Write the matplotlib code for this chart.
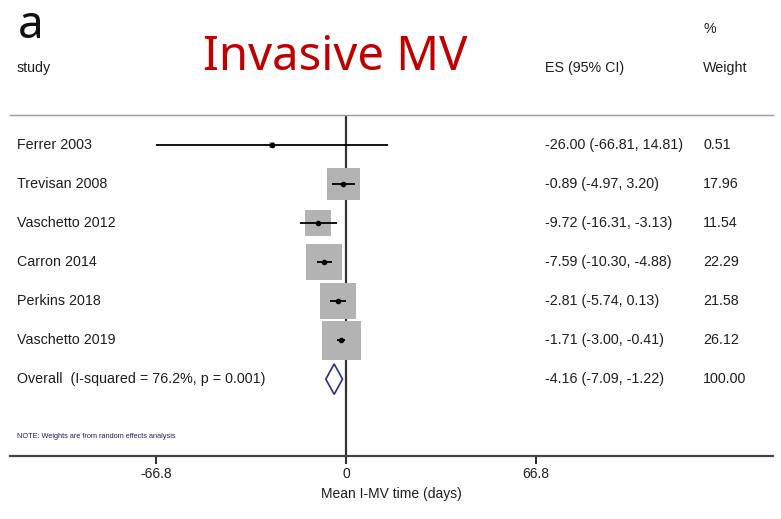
import matplotlib
matplotlib.use("Agg")
import matplotlib.pyplot as plt
import matplotlib.transforms as mtransforms
from matplotlib.patches import Polygon

studies = ["Ferrer 2003", "Trevisan 2008", "Vaschetto 2012", "Carron 2014",
           "Perkins 2018", "Vaschetto 2019"]
es = [-26.00, -0.89, -9.72, -7.59, -2.81, -1.71]
ci_low = [-66.81, -4.97, -16.31, -10.30, -5.74, -3.00]
ci_high = [14.81, 3.20, -3.13, -4.88, 0.13, -0.41]
weights = [0.51, 17.96, 11.54, 22.29, 21.58, 26.12]

overall_label = "Overall  (I-squared = 76.2%, p = 0.001)"
overall_es = -4.16
overall_low = -7.09
overall_high = -1.22
overall_weight = 100.00

xticks = [-66.8, 0, 66.8]
xticklabels = ["-66.8", "0", "66.8"]

W, H = 781, 519
fig = plt.figure(figsize=(W / 100, H / 100), dpi=100)
fig.patch.set_facecolor("white")

plt.rcParams['font.family'] = ['Liberation Sans', 'DejaVu Sans']
txt_color = "#1e1e1e"

# axes geometry (pixels)
left_px, right_px, top_px, bot_px = 10, 773, 115, 456
ax = fig.add_axes([left_px / W, (H - bot_px) / H, (right_px - left_px) / W, (bot_px - top_px) / H])
ax.set_xlim(-118.1, 150.1)
ax.set_ylim(8.97, 0.23)
ax.set_facecolor("none")

for s in ["left", "right"]:
    ax.spines[s].set_visible(False)
ax.spines["bottom"].set_linewidth(1.6)
ax.spines["bottom"].set_color("#444444")
ax.spines["top"].set_linewidth(1.0)
ax.spines["top"].set_color("#9a9a9a")
ax.set_yticks([])
ax.set_xticks(xticks)
ax.set_xticklabels(xticklabels, fontsize=10, color=txt_color)
ax.tick_params(axis="x", direction="out", length=6, width=1.5, color="#333333", pad=2)
ax.set_xlabel("Mean I-MV time (days)", fontsize=10, color=txt_color, labelpad=4)

# null line
ax.axvline(0, color="#333333", lw=1.6, zorder=1)

rows = list(range(1, len(studies) + 1))
ax.scatter(es, rows, marker="s", s=[30 * w for w in weights], color="#b3b3b3",
           linewidths=0, zorder=2)
for r, e, lo, hi in zip(rows, es, ci_low, ci_high):
    ax.plot([lo, hi], [r, r], color="black", lw=1.3, zorder=3, solid_capstyle="butt")
    ax.plot([e], [r], marker="o", ms=3, color="black", zorder=4)

orow = len(studies) + 1
dh = 0.39
diamond = Polygon([(overall_low, orow), (overall_es, orow - dh), (overall_high, orow),
                   (overall_es, orow + dh)], closed=True, facecolor="white",
                  edgecolor="#2f2f80", lw=1.2, zorder=3)
ax.add_patch(diamond)

# text columns
tr = mtransforms.blended_transform_factory(fig.transFigure, ax.transData)
x_study, x_es, x_w = 17 / W, 545 / W, 703 / W
fs = 10.3
for r, name, e, lo, hi, w in zip(rows, studies, es, ci_low, ci_high, weights):
    ax.text(x_study, r, name, transform=tr, ha="left", va="center", fontsize=fs, color=txt_color)
    ax.text(x_es, r, f"{e:.2f} ({lo:.2f}, {hi:.2f})", transform=tr, ha="left", va="center",
            fontsize=fs, color=txt_color)
    ax.text(x_w, r, f"{w:.2f}", transform=tr, ha="left", va="center", fontsize=fs, color=txt_color)
ax.text(x_study, orow, overall_label, transform=tr, ha="left", va="center", fontsize=fs, color=txt_color)
ax.text(x_es, orow, f"{overall_es:.2f} ({overall_low:.2f}, {overall_high:.2f})", transform=tr,
        ha="left", va="center", fontsize=fs, color=txt_color)
ax.text(x_w, orow, f"{overall_weight:.2f}", transform=tr, ha="left", va="center", fontsize=fs,
        color=txt_color)

# headers
def fy(py):
    return (H - py) / H

fig.text(17 / W, fy(72), "study", ha="left", va="baseline", fontsize=fs, color=txt_color)
fig.text(x_es, fy(72), "ES (95% CI)", ha="left", va="baseline", fontsize=fs, color=txt_color)
fig.text(x_w, fy(72), "Weight", ha="left", va="baseline", fontsize=fs, color=txt_color)
fig.text(x_w, fy(33), "%", ha="left", va="baseline", fontsize=fs, color=txt_color)
fig.text(18 / W, fy(38), "a", ha="left", va="baseline", fontsize=33, color="#111111",
         family=["Noto Sans", "DejaVu Sans"])
fig.text(335 / W, fy(70), "Invasive MV", ha="center", va="baseline", fontsize=34, color="#c00000",
         family=["Noto Sans", "DejaVu Sans"])
fig.text(17 / W, fy(437), "NOTE: Weights are from random effects analysis", ha="left",
         va="center", fontsize=5.3, color="#1e1e5a")

fig.savefig("out.png", dpi=100, facecolor="white")
